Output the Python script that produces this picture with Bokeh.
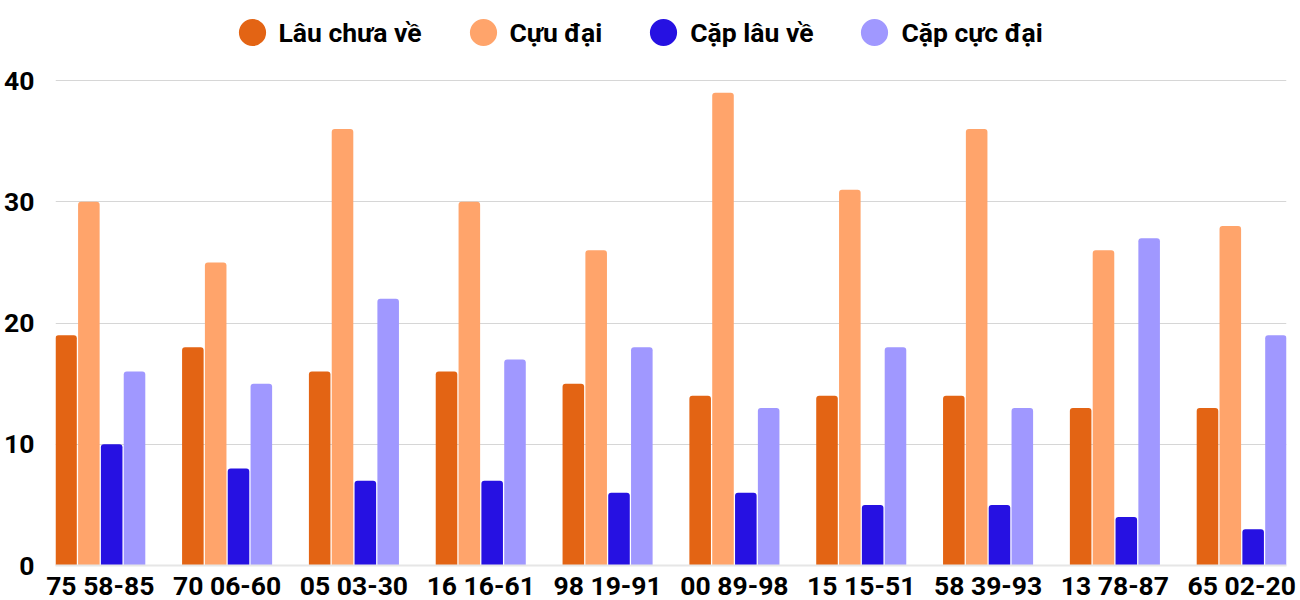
from bokeh.plotting import figure
from bokeh.models import Range1d, FixedTicker, Legend, LegendItem
from bokeh.embed import file_html
from bokeh.resources import INLINE

categories = ["75 58-85", "70 06-60", "05 03-30", "16 16-61", "98 19-91",
              "00 89-98", "15 15-51", "58 39-93", "13 78-87", "65 02-20"]
lau_chua_ve = [19, 18, 16, 16, 15, 14, 14, 14, 13, 13]
cuc_dai = [30, 25, 36, 30, 26, 39, 31, 36, 26, 28]
cap_lau_ve = [10, 8, 7, 7, 6, 6, 5, 5, 4, 3]
cap_cuc_dai = [16, 15, 22, 17, 18, 13, 18, 13, 27, 19]
y_ticks = [0, 10, 20, 30, 40]

series_names = ["Lâu chưa về", "Cựu đại", "Cặp lâu về", "Cặp cực đại"]
series_values = [lau_chua_ve, cuc_dai, cap_lau_ve, cap_cuc_dai]
colors = ["#E36414", "#FFA46B", "#2611E2", "#A098FF"]
offsets = [-0.27, -0.09, 0.09, 0.27]

FONT = "Roboto"
FS = "26.5px"

# frame extends to the top of the canvas so the legend can sit inside it
FRAME_H = 565
Y_TOP = 40 * FRAME_H / 485.0

p = figure(frame_width=1231, frame_height=FRAME_H, output_backend="svg",
           toolbar_location=None, x_range=Range1d(-0.353, 9.353),
           y_range=Range1d(0, Y_TOP),
           min_border_left=55, min_border_right=14, min_border_top=0,
           min_border_bottom=35)
p.outline_line_color = None
p.background_fill_color = "white"
p.border_fill_color = "white"

xs = list(range(len(categories)))
items = []
for name, vals, col, off in zip(series_names, series_values, colors, offsets):
    bx = [x + off for x in xs]
    p.vbar(x=bx, top=vals, bottom=0, width=0.17,
           fill_color=col, line_color=None, border_radius=(3, 3, 0, 0))
    r = p.ellipse(x=bx, y=vals, width=0.01, height=0.01,
                  width_units="screen", height_units="screen",
                  fill_color=col, line_color=None)
    items.append(LegendItem(label=name, renderers=[r]))

legend = Legend(items=items, orientation="horizontal", location=(179.5, 516),
                glyph_width=34, glyph_height=34, label_height=34,
                label_standoff=10, spacing=44, padding=0, margin=0,
                border_line_color=None, background_fill_alpha=0,
                label_text_font=FONT, label_text_font_style="bold",
                label_text_font_size=FS, label_text_color="#000000",
                label_text_baseline="middle")
p.add_layout(legend)

p.xaxis.ticker = FixedTicker(ticks=xs)
p.xaxis.major_label_overrides = {i: c for i, c in enumerate(categories)}
p.xaxis.major_label_text_font = FONT
p.xaxis.major_label_text_font_style = "bold"
p.xaxis.major_label_text_font_size = FS
p.xaxis.major_label_text_color = "#000000"
p.xaxis.major_label_standoff = 4
p.xaxis.major_tick_out = 0
p.xaxis.major_tick_in = 0
p.xaxis.major_tick_line_color = None
p.xaxis.minor_tick_line_color = None
p.xaxis.axis_line_color = "#e6e6e6"
p.xaxis.axis_line_width = 2

p.yaxis.ticker = FixedTicker(ticks=y_ticks)
p.yaxis.major_label_text_font = FONT
p.yaxis.major_label_text_font_style = "bold"
p.yaxis.major_label_text_font_size = FS
p.yaxis.major_label_text_color = "#000000"
p.yaxis.major_label_standoff = 21
p.yaxis.major_tick_out = 0
p.yaxis.major_tick_in = 0
p.yaxis.major_tick_line_color = None
p.yaxis.minor_tick_line_color = None
p.yaxis.axis_line_color = None

p.xgrid.grid_line_color = None
p.ygrid.ticker = FixedTicker(ticks=y_ticks[1:])
p.ygrid.grid_line_color = "#d6d6d6"
p.ygrid.grid_line_width = 1

open("out.html", "w").write(file_html(p, INLINE))
